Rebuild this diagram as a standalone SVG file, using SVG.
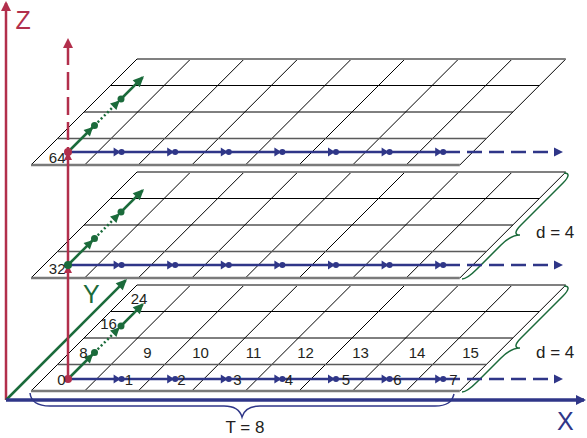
<svg xmlns="http://www.w3.org/2000/svg" width="587" height="438" viewBox="0 0 587 438">
<style>
.grid{stroke:#000;stroke-width:1;fill:none}
.edge{stroke:#808080;stroke-width:2;fill:none}
.edgeb{stroke:#7a7a7a;stroke-width:2.5;fill:none}
.row1{stroke:#5a5a5a;stroke-width:1.5;fill:none}
.numm{font-family:"Liberation Sans",Arial,sans-serif;font-size:15px;fill:#231f20;text-anchor:middle}
.nume{font-family:"Liberation Sans",Arial,sans-serif;font-size:15px;fill:#231f20;text-anchor:end}
.lbl{font-family:"Liberation Sans",Arial,sans-serif;font-size:17px;fill:#231f20}
.ax{font-family:"Liberation Sans",Arial,sans-serif;font-size:25px}
.blue{stroke:#2f3688;stroke-width:2.5;fill:none}
.bdash{stroke:#2f3688;stroke-width:2.5;fill:none;stroke-dasharray:15 7}
.green{stroke:#1b6b3b;stroke-width:2.5;fill:none}
.gdot{stroke:#1b6b3b;stroke-width:2.5;fill:none;stroke-dasharray:2 2.5}
.red{stroke:#b22f4c;stroke-width:2.5;fill:none}
.gbrace{stroke:#1b6b3b;stroke-width:1.5;fill:none}
.bbrace{stroke:#2f3688;stroke-width:1.5;fill:none}
.gfill{fill:#1b6b3b}
.rfill{fill:#b22f4c}
.bfill{fill:#2f3688}
</style>
<defs>
<marker id="mB" markerUnits="userSpaceOnUse" markerWidth="10" markerHeight="10" refX="1" refY="4.5" orient="auto" overflow="visible"><path d="M0,0 L9,4.5 L0,9 z" class="bfill"/></marker>
<marker id="mBax" markerUnits="userSpaceOnUse" markerWidth="10" markerHeight="10" refX="8" refY="5" orient="auto" overflow="visible"><path d="M0,0 L10,5 L0,10 z" class="bfill"/></marker>
<marker id="mGs" markerUnits="userSpaceOnUse" markerWidth="12" markerHeight="10" refX="11" refY="4.5" orient="auto" overflow="visible"><path d="M0,0 L9,4.5 L0,9 z" class="gfill"/></marker>
<marker id="mG" markerUnits="userSpaceOnUse" markerWidth="11" markerHeight="10" refX="9" refY="5" orient="auto" overflow="visible"><path d="M0,0 L11,5 L0,10 z" class="gfill"/></marker>
<marker id="mRs" markerUnits="userSpaceOnUse" markerWidth="8" markerHeight="8" refX="8" refY="4" orient="auto" overflow="visible"><path d="M0,0 L8,4 L0,8 z" class="rfill"/></marker>
<marker id="mR" markerUnits="userSpaceOnUse" markerWidth="10" markerHeight="10" refX="8" refY="5" orient="auto" overflow="visible"><path d="M0,0 L10,5 L0,10 z" class="rfill"/></marker>
<g id="bm" class="bfill"><path d="M-8,-4.5 L-1,0 L-8,4.5 z"/><circle r="3"/></g>
<g id="plane">
<path class="grid" d="M31,0 L137,-106 M84.6,0 L190.6,-106 M138.2,0 L244.2,-106 M191.8,0 L297.8,-106 M245.4,0 L351.4,-106 M299,0 L405,-106 M352.6,0 L458.6,-106 M406.2,0 L512.2,-106 M459.8,0 L565.8,-106 M84,-53 L512.8,-53 M110.5,-79.5 L539.3,-79.5"/>
<path class="row1" d="M57.5,-26.5 L486.3,-26.5"/>
<path class="edge" d="M137,-106 L565.8,-106"/>
<path class="edgeb" d="M31,0 L459.8,0"/>
</g>
</defs>

<g id="plane-top"><use href="#plane" transform="translate(0,165)"/></g>
<g id="plane-middle"><use href="#plane" transform="translate(0,278)"/></g>
<g id="plane-bottom"><use href="#plane" transform="translate(0,391)"/></g>

<g id="axes">
<path class="red" d="M6,400 L6,3" marker-end="url(#mR)"/>
<path class="green" d="M6,400 L125.6,280.4" marker-end="url(#mG)"/>
<path d="M6,400 L584,400" stroke="#2f3688" stroke-width="3.5" fill="none" marker-end="url(#mBax)"/>
<text class="ax" x="15.5" y="29" fill="#b22f4c">Z</text>
<text class="ax" x="83" y="303" fill="#1b6b3b">Y</text>
<text class="ax" x="557" y="430" fill="#2f3688">X</text>
</g>

<g id="braces">
<path class="gbrace" d="M564,286 C570,286 569,290 563,296 L521,338 C515,344 514,348 520,348 C514,348 507,352 501,358 L477,382 C471,388 466,392 462,392"/>
<path class="gbrace" transform="translate(0,-113)" d="M564,286 C570,286 569,290 563,296 L521,338 C515,344 514,348 520,348 C514,348 507,352 501,358 L477,382 C471,388 466,392 462,392"/>
<path class="bbrace" d="M30,393 C31,402 38,406 50,406 L224,406 C235,406 240,410 242,417 C244,410 249,406 260,406 L435,406 C447,406 452,402 454,394"/>
<text class="lbl" x="536" y="358">d = 4</text>
<text class="lbl" x="536" y="238">d = 4</text>
<text class="lbl" x="245" y="433" text-anchor="middle">T = 8</text>
</g>

<g id="connectors">
<path class="blue" d="M68,379 L460,379"/>
<path class="bdash" d="M467,379 L555,379" marker-end="url(#mB)"/>
<path class="blue" d="M68,265 L460,265"/>
<path class="bdash" d="M467,265 L555,265" marker-end="url(#mB)"/>
<path class="blue" d="M68,152 L460,152"/>
<path class="bdash" d="M467,152 L555,152" marker-end="url(#mB)"/>
<use href="#bm" x="121.6" y="379"/><use href="#bm" x="175.2" y="379"/><use href="#bm" x="228.8" y="379"/><use href="#bm" x="282.4" y="379"/><use href="#bm" x="336" y="379"/><use href="#bm" x="389.6" y="379"/><use href="#bm" x="443.2" y="379"/>
<use href="#bm" x="121.6" y="265"/><use href="#bm" x="175.2" y="265"/><use href="#bm" x="228.8" y="265"/><use href="#bm" x="282.4" y="265"/><use href="#bm" x="336" y="265"/><use href="#bm" x="389.6" y="265"/><use href="#bm" x="443.2" y="265"/>
<use href="#bm" x="121.6" y="152"/><use href="#bm" x="175.2" y="152"/><use href="#bm" x="228.8" y="152"/><use href="#bm" x="282.4" y="152"/><use href="#bm" x="336" y="152"/><use href="#bm" x="389.6" y="152"/><use href="#bm" x="443.2" y="152"/>
<path class="red" d="M68,379 L68,265" marker-end="url(#mRs)"/>
<path class="red" d="M68,265 L68,152" marker-end="url(#mRs)"/>
<path class="red" d="M68,152 L68,40" stroke-dasharray="18 7" stroke-dashoffset="13" marker-end="url(#mR)"/>
<path class="green" d="M68,379 L94.5,352.5" marker-end="url(#mGs)"/>
<path class="gdot" d="M94.5,352.5 L121,326" marker-end="url(#mGs)"/>
<path class="green" d="M121,326 L142.6,304.4" marker-end="url(#mG)"/>
<path class="green" d="M68,265 L94.5,238.5" marker-end="url(#mGs)"/>
<path class="gdot" d="M94.5,238.5 L121,212" marker-end="url(#mGs)"/>
<path class="green" d="M121,212 L142.6,190.4" marker-end="url(#mG)"/>
<path class="green" d="M68,152 L94.5,125.5" marker-end="url(#mGs)"/>
<path class="gdot" d="M94.5,125.5 L121,99" marker-end="url(#mGs)"/>
<path class="green" d="M121,99 L142.6,77.4" marker-end="url(#mG)"/>
<g class="gfill">
<circle cx="94.5" cy="352.5" r="3.5"/><circle cx="121" cy="326" r="3.5"/>
<circle cx="94.5" cy="238.5" r="3.5"/><circle cx="121" cy="212" r="3.5"/>
<circle cx="94.5" cy="125.5" r="3.5"/><circle cx="121" cy="99" r="3.5"/>
<circle cx="68" cy="265" r="4"/>
</g>
<circle class="rfill" cx="68" cy="379" r="4"/>
<circle class="rfill" cx="68" cy="152" r="4"/>
</g>

<g id="labels">
<text class="nume" x="65.5" y="385">0</text>
<text class="numm" x="129" y="385">1</text>
<text class="numm" x="181.5" y="385">2</text>
<text class="numm" x="237.5" y="385">3</text>
<text class="numm" x="289" y="385">4</text>
<text class="numm" x="346" y="385">5</text>
<text class="numm" x="397.5" y="385">6</text>
<text class="numm" x="453.5" y="385">7</text>
<text class="numm" x="83.5" y="357.5">8</text>
<text class="numm" x="147.5" y="357.5">9</text>
<text class="numm" x="200.5" y="357.5">10</text>
<text class="numm" x="253.5" y="357.5">11</text>
<text class="numm" x="305.5" y="357.5">12</text>
<text class="numm" x="360.5" y="357.5">13</text>
<text class="numm" x="417" y="357.5">14</text>
<text class="numm" x="470.5" y="357.5">15</text>
<text class="numm" x="108.5" y="328.5">16</text>
<text class="numm" x="139" y="303.5">24</text>
<text class="nume" x="65.5" y="273.5">32</text>
<text class="nume" x="65.5" y="162.5">64</text>
</g>
</svg>
